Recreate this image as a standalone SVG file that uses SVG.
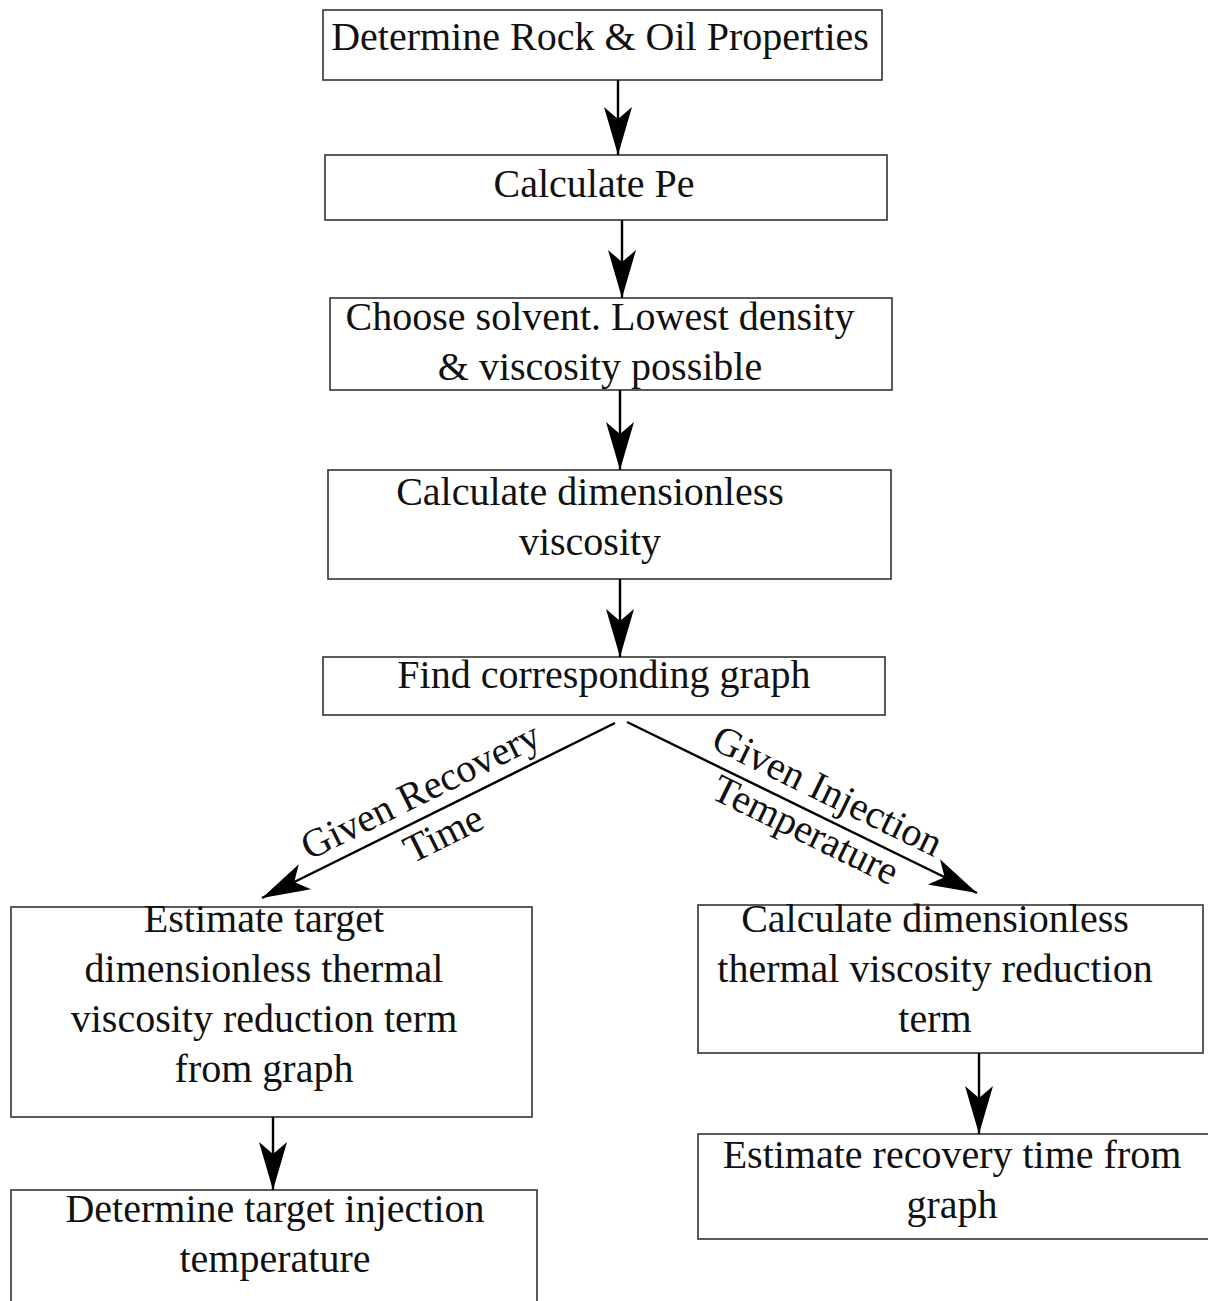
<svg xmlns="http://www.w3.org/2000/svg" width="1208" height="1301" viewBox="0 0 1208 1301">
<defs>
<style>
.box{fill:#fff;stroke:#333;stroke-width:1.6}
.t{font-family:"Liberation Serif","Times New Roman",serif;font-size:40px;fill:#111;text-anchor:middle}
.c{stroke:#000;stroke-width:2.4;fill:none}
</style>
<marker id="ah" markerUnits="userSpaceOnUse" markerWidth="50" markerHeight="30" refX="48" refY="15" viewBox="0 0 50 30" orient="auto">
<path d="M48,15 L0,1 L12,15 L0,29 Z" fill="#000"/>
</marker>
</defs>
<rect width="1208" height="1301" fill="#fff"/>
<g id="n1"><rect class="box" x="323" y="10" width="559" height="70"/><text class="t" x="600" y="50">Determine Rock &amp; Oil Properties</text></g>
<g id="n2"><rect class="box" x="325" y="155" width="562" height="65"/><text class="t" x="594" y="197">Calculate Pe</text></g>
<g id="n3"><rect class="box" x="330" y="298" width="562" height="92"/><text class="t" x="600" y="330">Choose solvent. Lowest density</text><text class="t" x="600" y="380">&amp; viscosity possible</text></g>
<g id="n4"><rect class="box" x="328" y="470" width="563" height="109"/><text class="t" x="590" y="505">Calculate dimensionless</text><text class="t" x="590" y="555">viscosity</text></g>
<g id="n5"><rect class="box" x="323" y="657" width="562" height="58"/><text class="t" x="604" y="688">Find corresponding graph</text></g>
<g id="n6"><rect class="box" x="11" y="907" width="521" height="210"/><text class="t" x="264" y="932">Estimate target</text><text class="t" x="264" y="982">dimensionless thermal</text><text class="t" x="264" y="1032">viscosity reduction term</text><text class="t" x="264" y="1082">from graph</text></g>
<g id="n7"><rect class="box" x="11" y="1190" width="526" height="130"/><text class="t" x="275" y="1222">Determine target injection</text><text class="t" x="275" y="1272">temperature</text></g>
<g id="n8"><rect class="box" x="698" y="905" width="505" height="148"/><text class="t" x="935" y="932">Calculate dimensionless</text><text class="t" x="935" y="982">thermal viscosity reduction</text><text class="t" x="935" y="1032">term</text></g>
<g id="n9"><rect class="box" x="698" y="1134" width="512" height="105"/><text class="t" x="952" y="1168">Estimate recovery time from</text><text class="t" x="952" y="1218">graph</text></g>
<g id="connectors">
<line class="c" x1="618" y1="80" x2="618" y2="155" marker-end="url(#ah)"/>
<line class="c" x1="622" y1="220" x2="622" y2="298" marker-end="url(#ah)"/>
<line class="c" x1="620" y1="390" x2="620" y2="470" marker-end="url(#ah)"/>
<line class="c" x1="620" y1="579" x2="620" y2="657" marker-end="url(#ah)"/>
<line class="c" x1="615" y1="723" x2="262" y2="898" marker-end="url(#ah)"/>
<line class="c" x1="627" y1="722" x2="977" y2="893" marker-end="url(#ah)"/>
<line class="c" x1="273" y1="1117" x2="273" y2="1190" marker-end="url(#ah)"/>
<line class="c" x1="979" y1="1053" x2="979" y2="1134" marker-end="url(#ah)"/>
<g transform="translate(420,790) rotate(-26.4)"><text class="t" x="0" y="14">Given Recovery</text></g>
<g transform="translate(443,833) rotate(-26.4)"><text class="t" x="0" y="14">Time</text></g>
<g transform="translate(828,790) rotate(26)"><text class="t" x="0" y="14">Given Injection</text></g>
<g transform="translate(806,829) rotate(26)"><text class="t" x="0" y="14">Temperature</text></g>
</g>
</svg>
